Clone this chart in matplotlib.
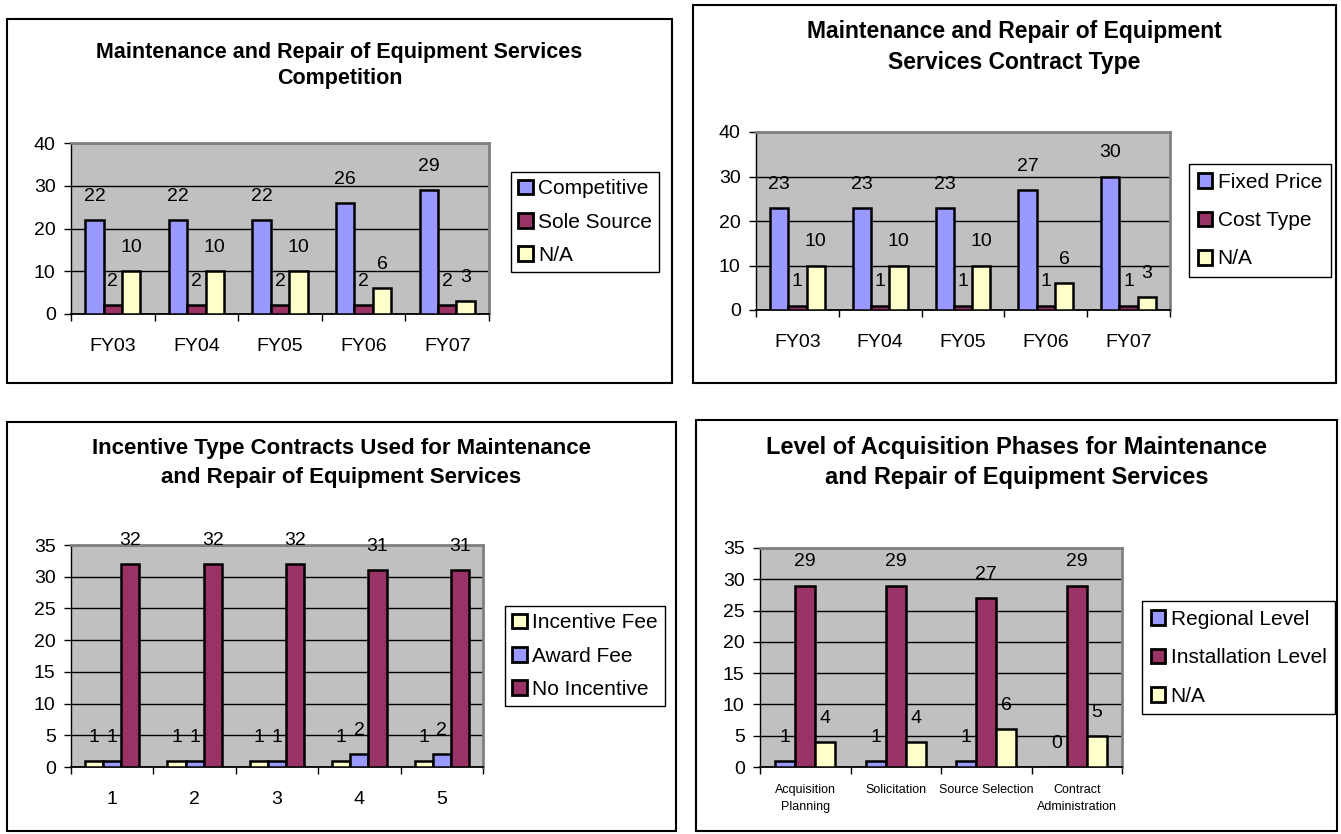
import numpy as np
from matplotlib import pyplot as plt
from matplotlib.patches import Patch, Rectangle

plt.rc('font', family='Liberation Sans')

# colours used by the old spreadsheet charts
BLUE = '#9999FF'
MAROON = '#993366'
CREAM = '#FFFFCC'
PLOT_BG = '#C0C0C0'

# panel 1: competition
comp_years = ['FY03', 'FY04', 'FY05', 'FY06', 'FY07']
competitive = [22, 22, 22, 26, 29]
sole_source = [2, 2, 2, 2, 2]
comp_na = [10, 10, 10, 6, 3]

# panel 2: contract type
ct_years = ['FY03', 'FY04', 'FY05', 'FY06', 'FY07']
fixed_price = [23, 23, 23, 27, 30]
cost_type = [1, 1, 1, 1, 1]
ct_na = [10, 10, 10, 6, 3]

# panel 3: incentive contracts
inc_cats = ['1', '2', '3', '4', '5']
incentive_fee = [1, 1, 1, 1, 1]
award_fee = [1, 1, 1, 2, 2]
no_incentive = [32, 32, 32, 31, 31]

# panel 4: acquisition phases
phases = ['Acquisition\nPlanning', 'Solicitation', 'Source Selection', 'Contract\nAdministration']
regional = [1, 1, 1, 0]
installation = [29, 29, 27, 29]
phase_na = [4, 4, 6, 5]

W, H = 1341, 834
fig = plt.figure(figsize=(W / 100, H / 100), dpi=100)


def frame(x0, y0, x1, y1):
    fig.patches.append(Rectangle((x0 / W, 1 - y1 / H), (x1 - x0) / W, (y1 - y0) / H,
                                 transform=fig.transFigure, fill=False,
                                 edgecolor='black', linewidth=1.5))


def panel(fbox, pbox, lpos, title, title_y, cats, series, names, colors,
          ymax, ystep, tfs=15.5, tls=1.36, lsp=0.69, lbp=0.35, xfs=14, xpad=17):
    frame(*fbox)
    x0, y0, x1, y1 = pbox
    ax = fig.add_axes([x0 / W, 1 - y1 / H, (x1 - x0) / W, (y1 - y0) / H])
    ax.set_facecolor(PLOT_BG)
    n = len(cats)
    bw = 0.22
    for j, (vals, c) in enumerate(zip(series, colors)):
        xs = np.arange(n) + (j - 1) * bw
        ax.bar(xs, vals, width=bw, color=c, edgecolor='black', linewidth=1.8, zorder=3)
        for x, v in zip(xs, vals):
            ax.annotate(str(v), (x, v), xytext=(0, 17), textcoords='offset points',
                        ha='center', va='center', fontsize=14, zorder=4)
    ax.set_xlim(-0.5, n - 0.5)
    ax.set_ylim(0, ymax)
    ax.set_yticks(np.arange(0, ymax + 1, ystep))
    ax.yaxis.grid(True, color='black', linewidth=1)
    ax.set_axisbelow(True)
    ax.set_xticks(np.arange(n))
    ax.set_xticklabels(cats, fontsize=xfs, linespacing=1.6)
    ax.set_xticks(np.arange(n + 1) - 0.5, minor=True)
    ax.tick_params(axis='x', which='major', length=0, pad=xpad)
    ax.tick_params(axis='x', which='minor', length=5, width=1, direction='out')
    ax.tick_params(axis='y', length=5, width=1, direction='out', labelsize=14, pad=6)
    for s in ('top', 'right'):
        ax.spines[s].set_color('#808080')
        ax.spines[s].set_linewidth(2)
    ax.spines['left'].set_linewidth(1)
    ax.spines['bottom'].set_linewidth(1.3)
    fig.text((fbox[0] + fbox[2]) / 2 / W, 1 - title_y / H, title, ha='center', va='center',
             fontsize=tfs, fontweight='bold', linespacing=tls)
    handles = [Patch(facecolor=c, edgecolor='black', linewidth=2) for c in colors]
    ax.legend(handles, names, loc='upper left', bbox_to_anchor=(lpos[0] / W, 1 - lpos[1] / H),
              bbox_transform=fig.transFigure, borderaxespad=0, fancybox=False,
              edgecolor='black', framealpha=1, fontsize=15, handlelength=0.7,
              handleheight=0.7, handletextpad=0.25, labelspacing=lsp, borderpad=lbp)
    ax.get_legend().get_frame().set_linewidth(1)
    return ax


panel((7, 19, 672, 383), (71, 143, 489, 314), (511, 172),
      'Maintenance and Repair of Equipment Services\nCompetition', 65.5,
      comp_years, [competitive, sole_source, comp_na],
      ['Competitive', 'Sole Source', 'N/A'], [BLUE, MAROON, CREAM], 40, 10)

panel((693, 5, 1336, 383), (756, 132, 1170, 310), (1189, 164),
      'Maintenance and Repair of Equipment\nServices Contract Type', 47,
      ct_years, [fixed_price, cost_type, ct_na],
      ['Fixed Price', 'Cost Type', 'N/A'], [BLUE, MAROON, CREAM], 40, 10,
      tfs=16.5, tls=1.42, lsp=0.93, lbp=0.42)

panel((7, 422, 676, 831), (71, 545, 483, 767), (505, 606),
      'Incentive Type Contracts Used for Maintenance\nand Repair of Equipment Services', 463,
      inc_cats, [incentive_fee, award_fee, no_incentive],
      ['Incentive Fee', 'Award Fee', 'No Incentive'], [CREAM, BLUE, MAROON], 35, 5,
      tfs=16, tls=1.46)

panel((696, 420, 1337, 831), (760, 548, 1122, 767), (1142, 601),
      'Level of Acquisition Phases for Maintenance\nand Repair of Equipment Services', 462.5,
      phases, [regional, installation, phase_na],
      ['Regional Level', 'Installation Level', 'N/A'], [BLUE, MAROON, CREAM], 35, 5,
      tfs=17, tls=1.38, lsp=0.93, lbp=0.42, xfs=9, xpad=12)

fig.savefig('out.png', dpi=100)
